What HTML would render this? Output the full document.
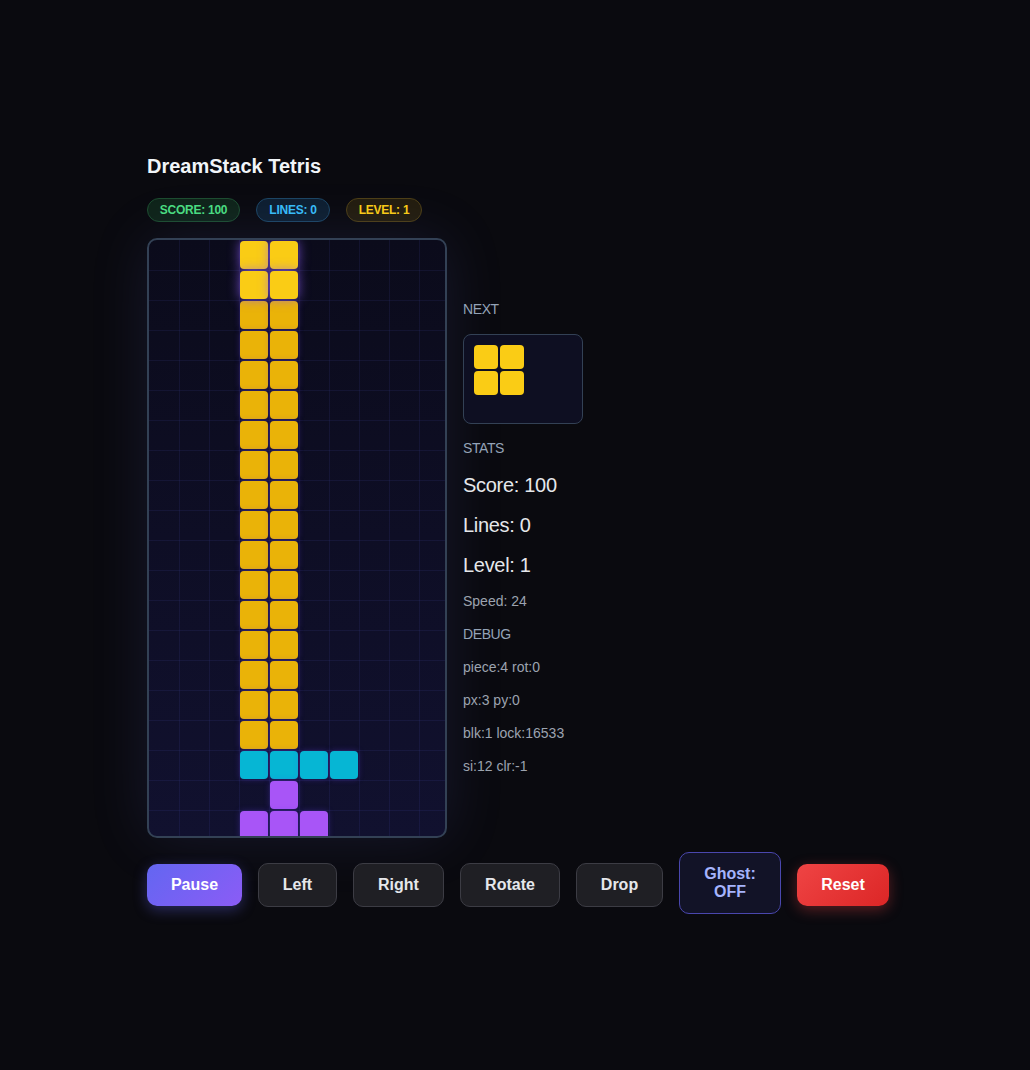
<!DOCTYPE html>
<html><head><meta charset="utf-8">
<style>
html,body{margin:0;padding:0;}
body{width:1030px;height:1070px;overflow:hidden;background:#0a0a0f;font-family:"Liberation Sans",sans-serif;position:relative;}
.t{position:absolute;white-space:nowrap;}
#title{left:147px;top:154px;font-size:20px;font-weight:700;color:#f1f5f9;line-height:24px;}
.pill{position:absolute;top:198px;height:24px;box-sizing:border-box;border-radius:12px;border:1px solid;font-size:12px;font-weight:700;line-height:22px;text-align:center;letter-spacing:-0.25px;}
#p1{left:147px;width:93px;background:#0f2419;border-color:#1d4d30;color:#4ade80;}
#p2{left:256px;width:74px;background:#0e1f30;border-color:#1c4563;color:#38bdf8;}
#p3{left:346px;width:76px;background:#231d0e;border-color:#4d3f16;color:#facc15;}
#board{position:absolute;left:147px;top:238px;width:300px;height:600px;box-sizing:border-box;border:2px solid #334155;border-radius:10px;overflow:hidden;
 background:linear-gradient(180deg,#0b0b1b 0%,#11112f 100%);box-shadow:0 0 60px rgba(110,115,230,0.13);}
#grid{position:absolute;left:0;top:0;width:300px;height:600px;}
#vl{position:absolute;left:30px;top:0;width:270px;height:600px;
 background-image:linear-gradient(90deg,rgba(99,102,241,0.09) 1px,transparent 1px);background-size:30px 30px;}
#hl{position:absolute;left:0;top:30px;width:300px;height:570px;
 background-image:linear-gradient(180deg,rgba(99,102,241,0.09) 1px,transparent 1px);background-size:30px 30px;}
.b{position:absolute;width:28px;height:28px;border-radius:4px;}
.b{box-shadow:0 0 6px rgba(99,60,230,0.35);}
.y{background:#eab308;}
.ya{background:#facc15;box-shadow:0 0 12px rgba(139,92,246,0.75);}
.c{background:#06b6d4;}
.p{background:#a855f7;}
.lbl{position:absolute;left:463px;font-size:14px;color:#94a3b8;line-height:16px;letter-spacing:-0.4px;}
#next{position:absolute;left:463px;top:334px;width:120px;height:90px;box-sizing:border-box;border:1px solid #334155;border-radius:8px;background:#0e0f22;}
.nb{position:absolute;width:24px;height:24px;border-radius:4px;background:#facc15;}
.big{position:absolute;left:463px;font-size:20px;color:#e5e7eb;line-height:24px;letter-spacing:-0.3px;}
.sm{position:absolute;left:463px;font-size:14px;color:#9ca3af;line-height:16px;}
.btn{position:absolute;box-sizing:border-box;font-family:"Liberation Sans",sans-serif;font-weight:700;font-size:16px;text-align:center;border-radius:10px;}
.dk{top:863px;height:44px;border:1px solid #3c3c44;background:#1f1f24;color:#e5e7eb;line-height:42px;}
</style></head><body>
<div class="t" id="title">DreamStack Tetris</div>
<div class="pill" id="p1">SCORE: 100</div>
<div class="pill" id="p2">LINES: 0</div>
<div class="pill" id="p3">LEVEL: 1</div>
<div id="board"><div id="vl"></div><div id="hl"></div><div id="grid">
<div class="b y" style="left:91px;top:61px"></div>
<div class="b y" style="left:121px;top:61px"></div>
<div class="b y" style="left:91px;top:91px"></div>
<div class="b y" style="left:121px;top:91px"></div>
<div class="b y" style="left:91px;top:121px"></div>
<div class="b y" style="left:121px;top:121px"></div>
<div class="b y" style="left:91px;top:151px"></div>
<div class="b y" style="left:121px;top:151px"></div>
<div class="b y" style="left:91px;top:181px"></div>
<div class="b y" style="left:121px;top:181px"></div>
<div class="b y" style="left:91px;top:211px"></div>
<div class="b y" style="left:121px;top:211px"></div>
<div class="b y" style="left:91px;top:241px"></div>
<div class="b y" style="left:121px;top:241px"></div>
<div class="b y" style="left:91px;top:271px"></div>
<div class="b y" style="left:121px;top:271px"></div>
<div class="b y" style="left:91px;top:301px"></div>
<div class="b y" style="left:121px;top:301px"></div>
<div class="b y" style="left:91px;top:331px"></div>
<div class="b y" style="left:121px;top:331px"></div>
<div class="b y" style="left:91px;top:361px"></div>
<div class="b y" style="left:121px;top:361px"></div>
<div class="b y" style="left:91px;top:391px"></div>
<div class="b y" style="left:121px;top:391px"></div>
<div class="b y" style="left:91px;top:421px"></div>
<div class="b y" style="left:121px;top:421px"></div>
<div class="b y" style="left:91px;top:451px"></div>
<div class="b y" style="left:121px;top:451px"></div>
<div class="b y" style="left:91px;top:481px"></div>
<div class="b y" style="left:121px;top:481px"></div>
<div class="b c" style="left:91px;top:511px"></div>
<div class="b c" style="left:121px;top:511px"></div>
<div class="b c" style="left:151px;top:511px"></div>
<div class="b c" style="left:181px;top:511px"></div>
<div class="b p" style="left:121px;top:541px"></div>
<div class="b p" style="left:91px;top:571px"></div>
<div class="b p" style="left:121px;top:571px"></div>
<div class="b p" style="left:151px;top:571px"></div>
<div class="b ya" style="left:91px;top:1px"></div>
<div class="b ya" style="left:121px;top:1px"></div>
<div class="b ya" style="left:91px;top:31px"></div>
<div class="b ya" style="left:121px;top:31px"></div>
</div></div>
<div class="lbl" style="top:301px">NEXT</div>
<div id="next">
<div class="nb" style="left:10px;top:10px"></div><div class="nb" style="left:36px;top:10px"></div>
<div class="nb" style="left:10px;top:36px"></div><div class="nb" style="left:36px;top:36px"></div>
</div>
<div class="lbl" style="top:440px">STATS</div>
<div class="big" style="top:473px">Score: 100</div>
<div class="big" style="top:513px">Lines: 0</div>
<div class="big" style="top:553px">Level: 1</div>
<div class="sm" style="top:593px">Speed: 24</div>
<div class="lbl" style="top:626px">DEBUG</div>
<div class="sm" style="top:659px">piece:4 rot:0</div>
<div class="sm" style="top:692px">px:3 py:0</div>
<div class="sm" style="top:725px">blk:1 lock:16533</div>
<div class="sm" style="top:758px">si:12 clr:-1</div>
<div class="btn" style="left:147px;top:864px;width:95px;height:42px;line-height:42px;color:#fff;background:linear-gradient(135deg,#6366f1,#8b5cf6);box-shadow:0 4px 14px rgba(99,102,241,0.35);">Pause</div>
<div class="btn dk" style="left:258px;width:79px;">Left</div>
<div class="btn dk" style="left:353px;width:91px;">Right</div>
<div class="btn dk" style="left:460px;width:100px;">Rotate</div>
<div class="btn dk" style="left:576px;width:87px;">Drop</div>
<div class="btn" style="left:679px;top:852px;width:102px;height:62px;border:1px solid #4a47ae;background:#121327;color:#a5b4fc;line-height:18px;padding-top:12px;">Ghost:<br>OFF</div>
<div class="btn" style="left:797px;top:864px;width:92px;height:42px;line-height:42px;color:#fff;background:linear-gradient(135deg,#ef4444,#dc2626);box-shadow:0 4px 14px rgba(239,68,68,0.35);">Reset</div>
</body></html>
